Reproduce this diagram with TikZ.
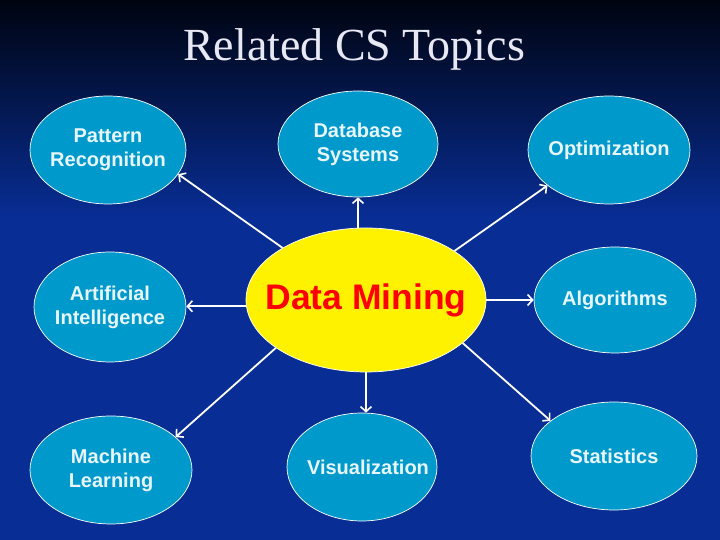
\documentclass[tikz,border=0pt]{standalone}
\usepackage{fontspec}
\setmainfont{Liberation Serif}
\newfontfamily\arialfont{Liberation Sans}
\usetikzlibrary{shapes.geometric,arrows.meta}
\definecolor{bgblue}{RGB}{8,46,150}
\definecolor{bgtop}{RGB}{0,4,16}
\definecolor{topicfill}{RGB}{0,153,204}
\definecolor{topictext}{RGB}{232,246,255}
\definecolor{titletext}{RGB}{232,232,245}
\tikzset{
  topic/.style={ellipse, draw=white, line width=0.7pt, fill=topicfill, inner xsep=-30pt, inner ysep=0pt,
    text=topictext, font=\arialfont\bfseries\fontsize{20}{24}\selectfont, align=center},
  core/.style={ellipse, draw=white, line width=0.7pt, fill=yellow, inner xsep=-50pt, inner ysep=0pt,
    text=red, font=\arialfont\bfseries\fontsize{35.5}{40}\selectfont},
  link/.style={draw=white, line width=1.8pt, -{Straight Barb[length=5pt,width=11pt,line width=1.6pt]}}
}
\begin{document}
\begin{tikzpicture}[x=1pt,y=1pt]
\useasboundingbox (0,0) rectangle (720,540);
\fill[bgblue] (0,0) rectangle (720,540);
\shade[top color=bgtop, bottom color=bgblue] (0,320) rectangle (720,540);
\node[font=\fontsize{46}{50}\selectfont, text=titletext, anchor=base] (title) at (354,479) {Related CS Topics};
\node[topic, minimum width=156pt, minimum height=108pt] (pr) at (108,390) {Pattern\\Recognition};
\node[topic, minimum width=160pt, minimum height=106pt] (db) at (358,396) {Database\\Systems};
\node[topic, minimum width=162pt, minimum height=108pt] (op) at (609,390) {Optimization};
\node[topic, minimum width=152pt, minimum height=110pt] (ai) at (110,233) {Artificial\\Intelligence};
\node[core, minimum width=240pt, minimum height=144pt] (dm) at (366,240) {Data Mining};
\node[topic, minimum width=162pt, minimum height=106pt] (al) at (615,240) {Algorithms};
\node[topic, minimum width=162pt, minimum height=108pt] (ml) at (111,70) {Machine\\Learning};
\node[topic, minimum width=150pt, minimum height=108pt] (vi) at (362,73) {\hspace*{12pt}Visualization};
\node[topic, minimum width=166pt, minimum height=108pt] (st) at (614,84) {Statistics};
\draw[link] (dm.148) -- (pr.-19);
\draw[link] (db.south |- dm.north) -- (db.south);
\draw[link] (dm.29) -- (op.210);
\draw[link] (dm.183) -- (dm.183 -| ai.east);
\draw[link] (dm.0) -- (al.180);
\draw[link] (dm.208) -- (ml.27);
\draw[link] (dm.south) -- (dm.south |- vi.north);
\draw[link] (dm.-24) -- (st.151);
\end{tikzpicture}
\end{document}
